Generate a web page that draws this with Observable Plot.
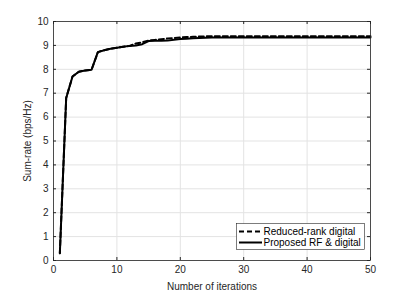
<!DOCTYPE html>
<html>
<head>
<meta charset="utf-8">
<script src="https://cdn.jsdelivr.net/npm/d3@7"></script>
<script src="https://cdn.jsdelivr.net/npm/@observablehq/plot@0.6"></script>
<style>
  html, body { margin: 0; padding: 0; background: #fff; }
  #chart { position: relative; width: 408px; height: 291px; }
</style>
</head>
<body>
<div id="chart"></div>
<script>
const iterations = d3.range(1, 51);
const seriesNames = ["Reduced-rank digital", "Proposed RF & digital"];
const reducedRank = [0.3, 6.8, 7.7, 7.9, 7.95, 7.98, 8.72, 8.8, 8.86, 8.9,
  8.94, 8.98, 9.08, 9.13, 9.2, 9.23, 9.26, 9.29, 9.31, 9.33,
  9.35, 9.36, 9.37, 9.38, 9.38, 9.38, 9.38, 9.38, 9.38, 9.38,
  9.38, 9.38, 9.38, 9.38, 9.38, 9.38, 9.38, 9.38, 9.38, 9.38,
  9.38, 9.38, 9.38, 9.38, 9.38, 9.38, 9.38, 9.38, 9.38, 9.38];
const proposed = [0.3, 6.8, 7.7, 7.9, 7.95, 7.98, 8.72, 8.8, 8.86, 8.9,
  8.94, 8.98, 9.0, 9.05, 9.18, 9.19, 9.19, 9.2, 9.24, 9.27,
  9.28, 9.3, 9.31, 9.32, 9.33, 9.33, 9.33, 9.33, 9.33, 9.33,
  9.33, 9.33, 9.33, 9.33, 9.33, 9.33, 9.33, 9.33, 9.33, 9.33,
  9.33, 9.33, 9.33, 9.33, 9.33, 9.33, 9.33, 9.33, 9.33, 9.33];
const xTicks = [0, 10, 20, 30, 40, 50];
const yTicks = [0, 1, 2, 3, 4, 5, 6, 7, 8, 9, 10];

const dataRR = iterations.map((it, i) => ({it, v: reducedRank[i]}));
const dataP = iterations.map((it, i) => ({it, v: proposed[i]}));

const W = 408, H = 291, mL = 53, mR = 38, mT = 21, mB = 31;
const innerW = W - mL - mR, innerH = H - mT - mB;
const axisColor = "#262626";
const gridColor = "#e3e3e3";

const plot = Plot.plot({
  width: W, height: H,
  marginLeft: mL, marginRight: mR, marginTop: mT, marginBottom: mB,
  style: {background: "#fff", fontFamily: "'Liberation Sans', Arial, sans-serif", fontSize: "10px", color: axisColor},
  x: {domain: [0, 50]},
  y: {domain: [0, 10]},
  marks: [
    Plot.gridX(xTicks, {stroke: gridColor, strokeOpacity: 1}),
    Plot.gridY(yTicks, {stroke: gridColor, strokeOpacity: 1}),
    Plot.tickX(xTicks, {x: d => d, stroke: axisColor, insetTop: innerH - 3}),
    Plot.tickX(xTicks, {x: d => d, stroke: axisColor, insetBottom: innerH - 3}),
    Plot.tickY(yTicks, {y: d => d, stroke: axisColor, insetRight: innerW - 3}),
    Plot.tickY(yTicks, {y: d => d, stroke: axisColor, insetLeft: innerW - 3}),
    Plot.axisX(xTicks, {tickSize: 0, tickPadding: 5, label: "Number of iterations", labelAnchor: "center", labelOffset: 29, fill: axisColor, fontSize: 10}),
    Plot.axisY(yTicks, {tickSize: 0, tickPadding: 5, label: "Sum-rate (bps/Hz)", labelAnchor: "center", labelOffset: 30, labelArrow: "none", fill: axisColor, fontSize: 10}),
    Plot.line(dataP, {x: "it", y: "v", stroke: "#000", strokeWidth: 2}),
    Plot.line(dataRR, {x: "it", y: "v", stroke: "#000", strokeWidth: 2, strokeDasharray: "5,3"}),
    Plot.frame({stroke: axisColor, strokeWidth: 0.8})
  ]
});

d3.select(plot).selectAll("text").each(function() {
  const t = d3.select(this);
  if (t.text().includes("Number of iterations")) t.text("Number of iterations");
  if (t.text().includes("Sum-rate")) t.text("Sum-rate (bps/Hz)");
});

// legend
const svg = d3.select(plot);
const lg = svg.append("g")
  .attr("font-family", "'Liberation Sans', Arial, sans-serif")
  .attr("font-size", 10)
  .attr("text-anchor", "start");
lg.append("rect").attr("x", 236.5).attr("y", 223.5).attr("width", 128).attr("height", 26)
  .attr("fill", "#fff").attr("stroke", axisColor).attr("stroke-width", 0.6);
const dashes = ["5,3", null];
seriesNames.forEach((name, i) => {
  const y = 231.5 + i * 11;
  lg.append("line").attr("x1", 239).attr("x2", 262).attr("y1", y).attr("y2", y)
    .attr("stroke", "#000").attr("stroke-width", 2).attr("stroke-dasharray", dashes[i]);
  lg.append("text").attr("x", 263.5).attr("y", y).attr("dy", "0.35em")
    .attr("text-anchor", "start").attr("fill", "#000").text(name);
});

document.getElementById("chart").appendChild(plot);
</script>
</body>
</html>
